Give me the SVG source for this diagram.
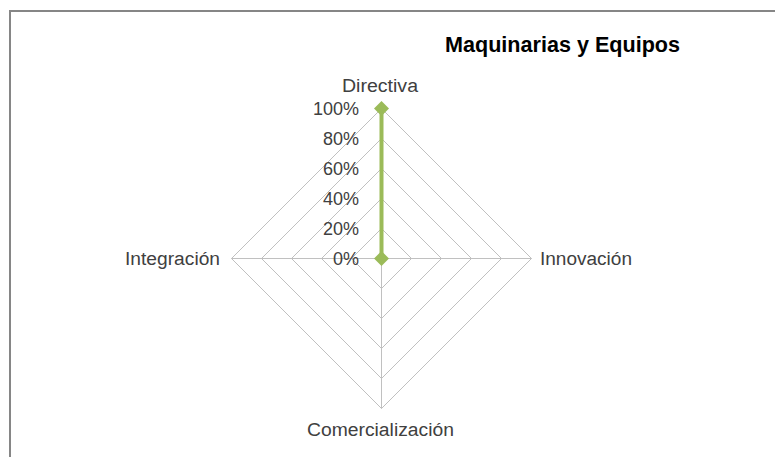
<svg xmlns="http://www.w3.org/2000/svg" width="775" height="457" viewBox="0 0 775 457">
<style>
.lbl{font-family:"Liberation Sans",Arial,sans-serif;font-size:18px;fill:#404040}
.tick{font-family:"Liberation Sans",Arial,sans-serif;font-size:18px;fill:#404040;text-anchor:end}
.ring{fill:none;stroke:#C0C0C0;stroke-width:1}
.title{font-family:"Liberation Sans",Arial,sans-serif;font-size:22px;font-weight:bold;fill:#000}
</style>
<defs>
<path id="dia" d="M0,-7.5 L7.5,0 L0,7.5 L-7.5,0 Z" fill="#9BBB59"/>
</defs>
<rect x="0" y="0" width="775" height="457" fill="#fff"/>
<path d="M10,460 V11 H780" fill="none" stroke="#868686" stroke-width="2"/>
<g id="title"><text class="title" x="445" y="52" textLength="235" lengthAdjust="spacingAndGlyphs">Maquinarias y Equipos</text></g>
<g id="grid">
<path class="ring" d="M381.5,228.5 L411.5,258.5 L381.5,288.5 L351.5,258.5 Z"/>
<path class="ring" d="M381.5,198.5 L441.5,258.5 L381.5,318.5 L321.5,258.5 Z"/>
<path class="ring" d="M381.5,168.5 L471.5,258.5 L381.5,348.5 L291.5,258.5 Z"/>
<path class="ring" d="M381.5,138.5 L501.5,258.5 L381.5,378.5 L261.5,258.5 Z"/>
<path class="ring" d="M381.5,108.5 L531.5,258.5 L381.5,408.5 L231.5,258.5 Z"/>
<path class="ring" d="M381.5,108.5 V408.5 M231.5,258.5 H531.5"/>
</g>
<g id="ticks">
<text class="tick" x="359" y="114.5">100%</text>
<text class="tick" x="359" y="144.5">80%</text>
<text class="tick" x="359" y="174.5">60%</text>
<text class="tick" x="359" y="204.5">40%</text>
<text class="tick" x="359" y="234.5">20%</text>
<text class="tick" x="359" y="264.5">0%</text>
</g>
<g id="axis-labels">
<text id="directiva" class="lbl" x="342" y="92" textLength="76" lengthAdjust="spacingAndGlyphs">Directiva</text>
<text id="innovacion" class="lbl" x="540" y="264.5" textLength="92" lengthAdjust="spacingAndGlyphs">Innovación</text>
<text id="integracion" class="lbl" x="125" y="264.5" textLength="95" lengthAdjust="spacingAndGlyphs">Integración</text>
<text id="comercializacion" class="lbl" x="307" y="436" textLength="147" lengthAdjust="spacingAndGlyphs">Comercialización</text>
</g>
<g id="series">
<path d="M381.5,258.5 V108.5" stroke="#9BBB59" stroke-width="4" fill="none"/>
<use href="#dia" x="381.5" y="108.5"/>
<use href="#dia" x="381.5" y="258.5"/>
</g>
</svg>
